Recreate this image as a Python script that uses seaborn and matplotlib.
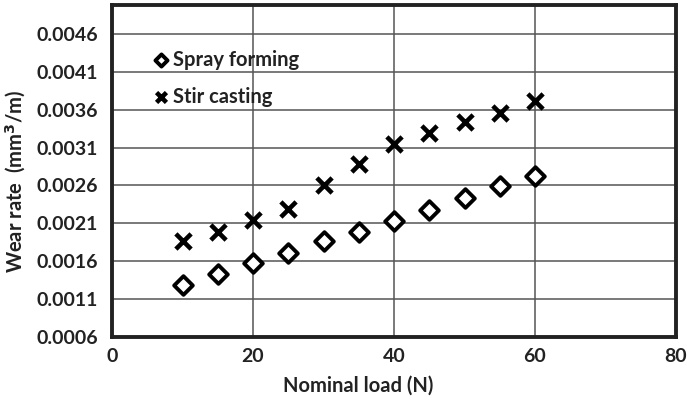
import matplotlib
matplotlib.use("Agg")
import matplotlib.pyplot as plt
import seaborn as sns
import pandas as pd

loads = [10, 15, 20, 25, 30, 35, 40, 45, 50, 55, 60]
spray_forming = [0.00129, 0.00143, 0.00158, 0.00171, 0.00186, 0.00199, 0.00213, 0.00228, 0.00244, 0.00259, 0.00273]
stir_casting = [0.00186, 0.00199, 0.00215, 0.00229, 0.00260, 0.00288, 0.00315, 0.00329, 0.00343, 0.00356, 0.00372]
y_ticks = [0.0006, 0.0011, 0.0016, 0.0021, 0.0026, 0.0031, 0.0036, 0.0041, 0.0046]
x_ticks = [0, 20, 40, 60, 80]

df = pd.DataFrame({
    "load": loads * 2,
    "rate": spray_forming + stir_casting,
    "series": ["Spray forming"] * len(loads) + ["Stir casting"] * len(loads),
})

sns.set_theme(style="white")
plt.rcParams["font.family"] = ["Lato", "DejaVu Sans"]
plt.rcParams["font.weight"] = "bold"

fig = plt.figure(figsize=(6.87, 4.01), dpi=100)
ax = fig.add_axes([112/687, 1 - 337/401, (676-112)/687, (337-5)/401])

sns.scatterplot(data=df[df.series == "Spray forming"], x="load", y="rate", ax=ax,
                marker="D", s=90, facecolor="white", edgecolor="black", linewidth=2.8,
                label="Spray forming", zorder=3)
sns.scatterplot(data=df[df.series == "Stir casting"], x="load", y="rate", ax=ax,
                marker="x", s=120, color="black", linewidth=3.3,
                label="Stir casting", zorder=3)

ax.set_xlim(0, 80)
ax.set_ylim(0.0006, 0.00498)
ax.set_xticks(x_ticks)
ax.set_yticks(y_ticks)
ax.set_xticklabels([str(v) for v in x_ticks], fontsize=14, fontweight="bold", color="#222222")
ax.set_yticklabels([f"{v:.4f}" for v in y_ticks], fontsize=14, fontweight="bold", color="#222222")
ax.tick_params(axis="x", length=0, pad=8)
ax.tick_params(axis="y", length=0, pad=10)
ax.grid(True, color="#555555", linewidth=1.1)
ax.set_axisbelow(True)
for sp in ax.spines.values():
    sp.set_color("#222222")
    sp.set_linewidth(2.8)

ax.set_xlabel("Nominal load (N)", fontsize=14.5, fontweight="bold", color="#222222")
ax.xaxis.set_label_coords((358 - 112) / (676 - 112), -0.115)
ax.set_ylabel("Wear rate  (mm$^3$/m)", fontsize=14.5, fontweight="bold", color="#222222")
ax.yaxis.set_label_coords((28 - 112) / (676 - 112), (337 - 181) / (337 - 5))

leg = ax.legend(loc="upper left", bbox_to_anchor=(0.045, 0.89), frameon=False,
                prop={"weight": "bold", "size": 14.5}, handletextpad=-0.15,
                labelspacing=0.85, borderaxespad=0.0, markerscale=0.65,
                handlelength=1.5)
for t in leg.get_texts():
    t.set_color("#222222")

fig.savefig("out.png", dpi=100)
